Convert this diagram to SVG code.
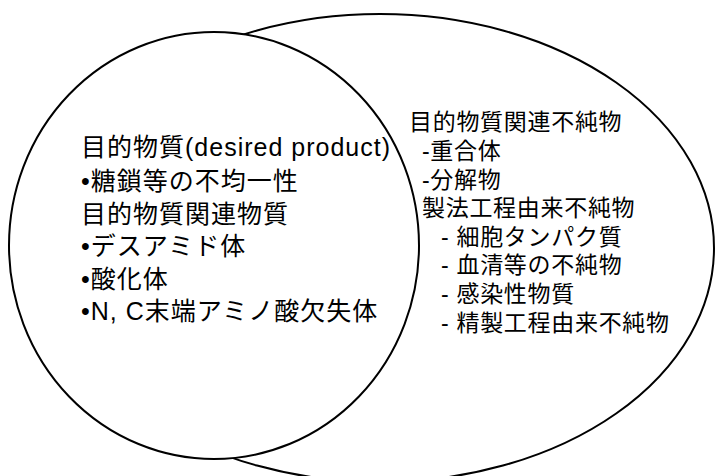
<svg xmlns="http://www.w3.org/2000/svg" width="715" height="476" viewBox="0 0 715 476">
<style>
.shape{stroke:#000;stroke-width:2;fill:#fff}
text{font-family:"Liberation Sans","Noto Sans CJK JP",sans-serif;fill:#000}
.l{font-size:25px;letter-spacing:1px}
.r{font-size:23px;letter-spacing:0.7px}
</style>
<rect width="715" height="476" fill="#fff"/>
<g id="impurities">
<ellipse class="shape" cx="380" cy="248" rx="334" ry="234"/>
<text class="r" x="409" y="130">目的物質関連不純物</text>
<text class="r" x="422" y="159">-重合体</text>
<text class="r" x="422" y="188">-分解物</text>
<text class="r" x="422" y="216">製法工程由来不純物</text>
<text class="r" x="441" y="245">- 細胞タンパク質</text>
<text class="r" x="441" y="273">- 血清等の不純物</text>
<text class="r" x="441" y="302">- 感染性物質</text>
<text class="r" x="441" y="331">- 精製工程由来不純物</text>
</g>
<g id="product">
<ellipse class="shape" cx="214" cy="245.5" rx="205" ry="213.5"/>
<text class="l" x="81" y="156">目的物質(desired product)</text>
<text class="l" x="81" y="190">•糖鎖等の不均一性</text>
<text class="l" x="81" y="223">目的物質関連物質</text>
<text class="l" x="81" y="255">•デスアミド体</text>
<text class="l" x="81" y="288">•酸化体</text>
<text class="l" x="81" y="320">•N, C末端アミノ酸欠失体</text>
</g>
<g id="connectors"/>
</svg>
